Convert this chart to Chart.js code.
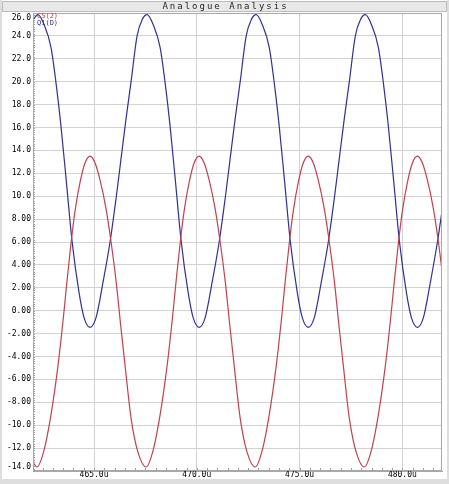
<!DOCTYPE html>
<html><head><meta charset="utf-8">
<script src="https://cdn.jsdelivr.net/npm/chart.js@4.4.0/dist/chart.umd.min.js"></script>
<style>html,body{margin:0;padding:0;background:#fff;}canvas{display:block;}</style>
</head><body>
<canvas id="c" width="449" height="484"></canvas>
<script>
const chartTitle = 'Analogue Analysis';
const seriesNames = ['C5(2)', 'Q1(D)'];

const redTimes = [462.03, 462.223,
  462.564, 462.905, 463.246, 463.490, 463.685, 463.880, 464.074, 464.318, 464.561, 464.805,
  465.049, 465.292, 465.584, 465.828, 466.071, 466.315, 466.510, 466.802, 467.143, 467.533,
  467.873, 468.214, 468.555, 468.799, 468.994, 469.189, 469.383, 469.627, 469.870, 470.114,
  470.358, 470.601, 470.893, 471.137, 471.380, 471.624, 471.819, 472.111, 472.452, 472.842,
  473.183, 473.524, 473.865, 474.109, 474.304, 474.499, 474.693, 474.937, 475.180, 475.424,
  475.668, 475.911, 476.203, 476.447, 476.690, 476.934, 477.129, 477.421, 477.762, 478.152,
  478.492, 478.833, 479.174, 479.418, 479.613, 479.808, 480.002, 480.246, 480.489, 480.733,
  480.977, 481.220, 481.512, 481.756, 481.93];
const redValues = [-13.25, -13.65,
  -12.2, -9.1, -4.8, -0.9, 2.6, 5.9, 8.7, 11.2, 12.9, 13.5,
  12.9, 11.4, 8.9, 6.0, 2.6, -1.6, -4.8, -9.4, -12.4, -13.65,
  -12.2, -9.1, -4.8, -0.9, 2.6, 5.9, 8.7, 11.2, 12.9, 13.5,
  12.9, 11.4, 8.9, 6.0, 2.6, -1.6, -4.8, -9.4, -12.4, -13.65,
  -12.2, -9.1, -4.8, -0.9, 2.6, 5.9, 8.7, 11.2, 12.9, 13.5,
  12.9, 11.4, 8.9, 6.0, 2.6, -1.6, -4.8, -9.4, -12.4, -13.65,
  -12.2, -9.1, -4.8, -0.9, 2.6, 5.9, 8.7, 11.2, 12.9, 13.5,
  12.9, 11.4, 8.9, 6.0, 3.5];

const blueTimes = [462.03, 462.272,
  462.564, 462.905, 463.149, 463.392, 463.636, 463.928, 464.269, 464.513, 464.805,
  465.097, 465.438, 465.779, 466.071, 466.315, 466.559, 466.802, 467.094, 467.338, 467.582,
  467.873, 468.214, 468.458, 468.701, 468.945, 469.237, 469.578, 469.822, 470.114,
  470.406, 470.747, 471.088, 471.380, 471.624, 471.868, 472.111, 472.403, 472.647, 472.891,
  473.183, 473.524, 473.768, 474.011, 474.255, 474.547, 474.888, 475.132, 475.424,
  475.716, 476.057, 476.398, 476.690, 476.934, 477.178, 477.421, 477.713, 477.957, 478.201,
  478.492, 478.833, 479.077, 479.320, 479.564, 479.856, 480.197, 480.441, 480.733,
  481.025, 481.366, 481.707, 481.93];
const blueValues = [25.4, 25.85,
  25.0, 23.0, 19.9, 16.1, 11.6, 6.1, 1.6, -0.6, -1.45,
  -0.6, 2.5, 6.0, 9.8, 13.3, 16.8, 20.0, 24.0, 25.4, 25.85,
  25.0, 23.0, 19.9, 16.1, 11.6, 6.1, 1.6, -0.6, -1.45,
  -0.6, 2.5, 6.0, 9.8, 13.3, 16.8, 20.0, 24.0, 25.4, 25.85,
  25.0, 23.0, 19.9, 16.1, 11.6, 6.1, 1.6, -0.6, -1.45,
  -0.6, 2.5, 6.0, 9.8, 13.3, 16.8, 20.0, 24.0, 25.4, 25.85,
  25.0, 23.0, 19.9, 16.1, 11.6, 6.1, 1.6, -0.6, -1.45,
  -0.6, 2.5, 6.0, 8.7];

const xTickValues = [465, 470, 475, 480];
const yTickValues = [26, 24, 22, 20, 18, 16, 14, 12, 10, 8, 6, 4, 2, 0, -2, -4, -6, -8, -10, -12, -14];
const xRange = [462.03, 481.93];
const yRange = [-14, 26];

const RED = '#c4404c';
const BLUE = '#30309a';
const MONO = '"DejaVu Sans Mono", "Liberation Mono", monospace';

function pts(ts, vs) { return ts.map((t, i) => ({ x: t, y: vs[i] })); }
function fmtY(v) { return Math.abs(v) >= 10 ? v.toFixed(1) : v.toFixed(2); }

const decor = {
  id: 'decor',
  beforeDraw(chart) {
    const ctx = chart.ctx, W = chart.width, H = chart.height;
    ctx.save();
    ctx.fillStyle = '#ffffff'; ctx.fillRect(0, 0, W, H);
    ctx.fillStyle = '#dedede';
    ctx.fillRect(0, 0, 2, H); ctx.fillRect(W - 2, 0, 2, H); ctx.fillRect(0, H - 5, W, 5);
    ctx.fillStyle = '#e8e8e8'; ctx.fillRect(2, 1, W - 4, 11);
    ctx.strokeStyle = '#bcbcbc'; ctx.lineWidth = 1; ctx.strokeRect(2.5, 1.5, W - 5, 10);
    ctx.fillStyle = '#1e1e1e'; ctx.font = '9px ' + MONO;
    try { ctx.letterSpacing = '2px'; } catch (e) {}
    ctx.textAlign = 'center'; ctx.textBaseline = 'middle';
    ctx.fillText(chartTitle, W / 2 + 1, 7);
    ctx.restore();
  },
  beforeDatasetsDraw(chart) {
    const ctx = chart.ctx, ca = chart.chartArea;
    const xs = chart.scales.x, ys = chart.scales.y;
    ctx.save();
    ctx.strokeStyle = '#a0a0a0'; ctx.lineWidth = 1;
    ctx.beginPath();
    for (let i = 0; i <= 200; i++) {
      const v = yRange[0] + i * 0.2;
      const py = Math.round(ys.getPixelForValue(v)) + 0.5;
      ctx.moveTo(ca.left, py); ctx.lineTo(ca.left + 2, py);
    }
    for (let v = 462.5; v < xRange[1]; v += 0.5) {
      const px = Math.round(xs.getPixelForValue(v)) + 0.5;
      ctx.moveTo(px, ca.bottom); ctx.lineTo(px, ca.bottom - 3);
    }
    ctx.stroke();
    ctx.restore();
  },
  afterDatasetsDraw(chart) {
    const ctx = chart.ctx, ca = chart.chartArea, ys = chart.scales.y;
    ctx.save();
    ctx.strokeStyle = '#a8a8a8'; ctx.lineWidth = 1;
    ctx.strokeRect(Math.round(ca.left) + 0.5, Math.round(ca.top) + 0.5,
      Math.round(ca.right - ca.left) - 1, Math.round(ca.bottom - ca.top) - 1);
    ctx.font = '7px ' + MONO; ctx.textAlign = 'left'; ctx.textBaseline = 'middle';
    ctx.fillStyle = RED; ctx.fillText(seriesNames[0], ca.left + 4, ca.top + 3);
    ctx.fillStyle = BLUE; ctx.fillText(seriesNames[1], ca.left + 4, ca.top + 10.5);
    ctx.font = '8px ' + MONO; ctx.textAlign = 'right'; ctx.fillStyle = '#000';
    ctx.fillText(fmtY(yRange[1]), ca.left - 2, ys.getPixelForValue(yRange[1]) + 5);
    ctx.fillText(fmtY(yRange[0]), ca.left - 2, ys.getPixelForValue(yRange[0]) - 4);
    ctx.restore();
  }
};

new Chart(document.getElementById('c'), {
  type: 'line',
  data: {
    datasets: [
      { label: seriesNames[0], data: pts(redTimes, redValues), borderColor: RED, borderWidth: 1.2,
        pointRadius: 0, cubicInterpolationMode: 'monotone', fill: false },
      { label: seriesNames[1], data: pts(blueTimes, blueValues), borderColor: BLUE, borderWidth: 1.2,
        pointRadius: 0, cubicInterpolationMode: 'monotone', fill: false }
    ]
  },
  options: {
    responsive: false, animation: false, devicePixelRatio: 1,
    layout: { padding: { left: 0, right: 7, top: 13, bottom: 0 } },
    plugins: { legend: { display: false }, tooltip: { enabled: false }, title: { display: false } },
    scales: {
      x: {
        type: 'linear', min: xRange[0], max: xRange[1],
        afterBuildTicks: s => { s.ticks = xTickValues.map(v => ({ value: v })); },
        afterFit: s => { s.height = 13; s.paddingLeft = 0; s.paddingRight = 0; },
        ticks: { autoSkip: false, maxRotation: 0, padding: -1, color: '#000',
          font: { family: MONO, size: 8 }, callback: v => v.toFixed(1) + 'u' },
        grid: { color: '#d2d2d2', lineWidth: 1, drawTicks: false },
        border: { display: true, color: '#a8a8a8' }
      },
      y: {
        type: 'linear', min: yRange[0], max: yRange[1],
        afterBuildTicks: s => { s.ticks = yTickValues.map(v => ({ value: v })); },
        afterFit: s => { s.width = 33; s.paddingTop = 0; s.paddingBottom = 0; },
        ticks: { autoSkip: false, padding: 2, color: '#000',
          font: { family: MONO, size: 8 },
          callback: v => (v === yRange[0] || v === yRange[1]) ? '' : fmtY(v) },
        grid: { color: '#d2d2d2', lineWidth: 1, drawTicks: false },
        border: { display: true, color: '#a8a8a8' }
      }
    }
  },
  plugins: [decor]
});
</script>
</body></html>
